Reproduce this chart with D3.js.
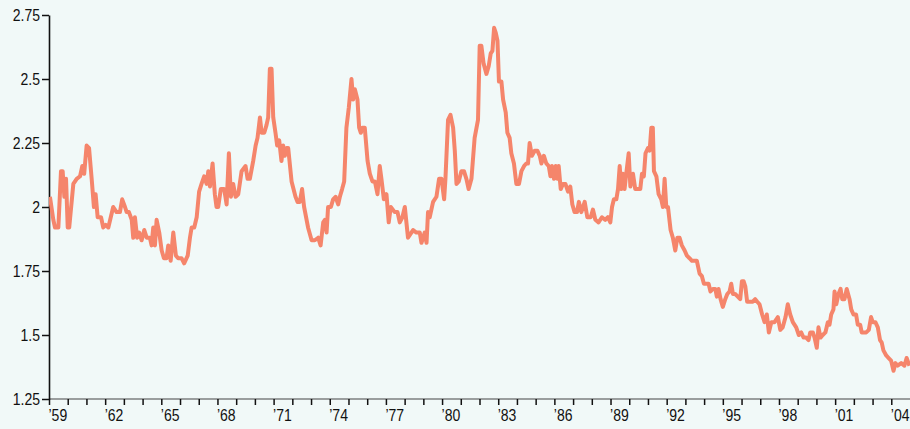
<!DOCTYPE html>
<html>
<head>
<meta charset="utf-8">
<script src="https://cdn.jsdelivr.net/npm/d3@7"></script>
<style>
  html, body { margin: 0; padding: 0; background: #f1f9f8; }
  svg { display: block; }
  .axis text { font-family: "Liberation Sans", Arial, sans-serif; font-size: 16.5px; fill: #111; }
</style>
</head>
<body>
<div id="chart"></div>
<script>
// decimal year of each reading
var dates = [
  1959.05, 1959.23, 1959.32, 1959.50, 1959.64, 1959.73, 1959.82, 1959.91, 1960.00, 1960.08,
  1960.30, 1960.48, 1960.66, 1960.78, 1960.88, 1961.01, 1961.14, 1961.28, 1961.40, 1961.49,
  1961.60, 1961.78, 1961.90, 1962.03, 1962.17, 1962.43, 1962.61, 1962.79, 1962.91, 1963.06,
  1963.15, 1963.27, 1963.42, 1963.50, 1963.59, 1963.71, 1963.82, 1963.95, 1964.09, 1964.22,
  1964.39, 1964.48, 1964.57, 1964.66, 1964.75, 1964.89, 1965.02, 1965.14, 1965.28, 1965.37,
  1965.50, 1965.64, 1965.78, 1965.90, 1966.08, 1966.22, 1966.41, 1966.53, 1966.62, 1966.76,
  1966.89, 1967.02, 1967.15, 1967.29, 1967.42, 1967.51, 1967.60, 1967.74, 1967.86, 1967.95,
  1968.04, 1968.18, 1968.36, 1968.49, 1968.61, 1968.72, 1968.84, 1968.97, 1969.11, 1969.29,
  1969.50, 1969.61, 1969.73, 1969.91, 1970.04, 1970.14, 1970.27, 1970.36, 1970.50, 1970.62,
  1970.71, 1970.80, 1970.89, 1970.98, 1971.10, 1971.19, 1971.30, 1971.42, 1971.51, 1971.60,
  1971.69, 1971.78, 1971.96, 1972.17, 1972.28, 1972.40, 1972.52, 1972.63, 1972.84, 1973.03,
  1973.20, 1973.38, 1973.51, 1973.65, 1973.74, 1973.83, 1973.91, 1974.06, 1974.18, 1974.31,
  1974.45, 1974.54, 1974.66, 1974.77, 1974.89, 1975.02, 1975.16, 1975.25, 1975.34, 1975.48,
  1975.57, 1975.66, 1975.75, 1975.87, 1976.02, 1976.14, 1976.28, 1976.41, 1976.55, 1976.67,
  1976.76, 1976.89, 1977.03, 1977.15, 1977.26, 1977.47, 1977.62, 1977.74, 1977.88, 1978.01,
  1978.18, 1978.45, 1978.63, 1978.81, 1978.90, 1979.07, 1979.17, 1979.25, 1979.34, 1979.52,
  1979.70, 1979.84, 1979.97, 1980.11, 1980.18, 1980.32, 1980.45, 1980.59, 1980.68, 1980.77,
  1980.89, 1981.03, 1981.17, 1981.30, 1981.42, 1981.57, 1981.74, 1981.92, 1982.01, 1982.10,
  1982.22, 1982.37, 1982.49, 1982.60, 1982.69, 1982.78, 1982.87, 1982.96, 1983.04, 1983.17,
  1983.26, 1983.40, 1983.49, 1983.61, 1983.70, 1983.84, 1983.97, 1984.11, 1984.24, 1984.38,
  1984.50, 1984.59, 1984.68, 1984.80, 1984.95, 1985.09, 1985.22, 1985.31, 1985.44, 1985.57,
  1985.70, 1985.79, 1985.87, 1985.98, 1986.07, 1986.16, 1986.23, 1986.34, 1986.46, 1986.59,
  1986.73, 1986.85, 1986.96, 1987.08, 1987.21, 1987.31, 1987.44, 1987.62, 1987.76, 1987.94,
  1988.06, 1988.19, 1988.36, 1988.54, 1988.72, 1988.86, 1988.99, 1989.08, 1989.18, 1989.31,
  1989.40, 1989.49, 1989.58, 1989.66, 1989.75, 1989.84, 1989.97, 1990.06, 1990.20, 1990.32,
  1990.46, 1990.59, 1990.68, 1990.78, 1990.87, 1991.00, 1991.09, 1991.18, 1991.26, 1991.32,
  1991.45, 1991.57, 1991.71, 1991.80, 1991.89, 1991.98, 1992.07, 1992.21, 1992.33, 1992.46,
  1992.57, 1992.69, 1992.81, 1992.96, 1993.08, 1993.22, 1993.35, 1993.49, 1993.61, 1993.76,
  1993.88, 1993.99, 1994.11, 1994.24, 1994.34, 1994.47, 1994.60, 1994.68, 1994.77, 1994.88,
  1995.00, 1995.13, 1995.24, 1995.36, 1995.45, 1995.54, 1995.66, 1995.80, 1995.93, 1996.02,
  1996.11, 1996.20, 1996.30, 1996.43, 1996.60, 1996.73, 1996.84, 1996.96, 1997.10, 1997.23,
  1997.35, 1997.46, 1997.59, 1997.76, 1997.94, 1998.07, 1998.20, 1998.35, 1998.47, 1998.60,
  1998.74, 1998.92, 1999.06, 1999.19, 1999.31, 1999.45, 1999.58, 1999.67, 1999.81, 1999.90,
  2000.02, 2000.11, 2000.22, 2000.34, 2000.48, 2000.61, 2000.70, 2000.79, 2000.91, 2000.97,
  2001.06, 2001.18, 2001.29, 2001.38, 2001.50, 2001.62, 2001.77, 2001.86, 2001.98, 2002.12,
  2002.21, 2002.34, 2002.42, 2002.53, 2002.66, 2002.80, 2002.92, 2003.01, 2003.15, 2003.28,
  2003.40, 2003.49, 2003.58, 2003.73, 2003.86, 2003.99, 2004.12, 2004.22, 2004.34, 2004.53,
  2004.70, 2004.82, 2004.97
];

var values = [
  2.04, 1.95, 1.92, 1.92, 2.14, 2.14, 2.04, 2.11, 1.92, 1.92,
  2.09, 2.11, 2.12, 2.16, 2.13, 2.24, 2.23, 2.11, 2.00, 2.05,
  1.96, 1.96, 1.92, 1.93, 1.92, 2.00, 1.98, 1.98, 2.03, 2.00,
  1.98, 1.98, 1.95, 1.88, 1.96, 1.88, 1.90, 1.87, 1.91, 1.88,
  1.88, 1.85, 1.92, 1.85, 1.95, 1.90, 1.83, 1.80, 1.80, 1.85,
  1.79, 1.90, 1.81, 1.80, 1.80, 1.78, 1.81, 1.88, 1.92, 1.92,
  1.96, 2.06, 2.09, 2.12, 2.09, 2.14, 2.08, 2.17, 2.05, 2.00,
  2.00, 2.07, 2.07, 2.01, 2.21, 2.04, 2.09, 2.04, 2.05, 2.14,
  2.16, 2.11, 2.11, 2.18, 2.24, 2.27, 2.35, 2.29, 2.29, 2.32,
  2.35, 2.54, 2.54, 2.35, 2.29, 2.24, 2.26, 2.18, 2.24, 2.20,
  2.23, 2.23, 2.10, 2.04, 2.02, 2.02, 2.07, 2.00, 1.92, 1.87,
  1.87, 1.88, 1.85, 1.94, 1.95, 1.90, 2.00, 2.00, 2.03, 2.04,
  2.01, 2.04, 2.07, 2.10, 2.31, 2.39, 2.50, 2.42, 2.46, 2.42,
  2.31, 2.29, 2.31, 2.31, 2.18, 2.13, 2.10, 2.10, 2.05, 2.16,
  2.11, 2.03, 2.05, 1.94, 2.00, 1.98, 1.98, 1.94, 1.96, 2.00,
  1.88, 1.91, 1.90, 1.90, 1.86, 1.90, 1.86, 1.98, 1.96, 2.02,
  2.04, 2.11, 2.11, 2.03, 2.11, 2.34, 2.36, 2.31, 2.22, 2.09,
  2.10, 2.14, 2.14, 2.11, 2.07, 2.11, 2.27, 2.34, 2.63, 2.63,
  2.56, 2.52, 2.55, 2.60, 2.61, 2.70, 2.68, 2.65, 2.49, 2.49,
  2.42, 2.37, 2.29, 2.27, 2.21, 2.17, 2.09, 2.09, 2.14, 2.16,
  2.17, 2.17, 2.25, 2.20, 2.22, 2.22, 2.20, 2.17, 2.20, 2.17,
  2.16, 2.12, 2.16, 2.11, 2.16, 2.11, 2.16, 2.07, 2.09, 2.09,
  2.06, 2.08, 2.01, 1.98, 1.98, 2.02, 1.98, 2.02, 1.96, 1.96,
  1.99, 1.95, 1.94, 1.96, 1.95, 1.96, 1.94, 2.00, 2.03, 2.03,
  2.07, 2.16, 2.07, 2.13, 2.07, 2.13, 2.21, 2.08, 2.13, 2.07,
  2.07, 2.07, 2.13, 2.12, 2.21, 2.23, 2.22, 2.31, 2.31, 2.14,
  2.12, 2.05, 2.03, 2.00, 2.11, 2.00, 2.00, 1.91, 1.88, 1.83,
  1.88, 1.88, 1.85, 1.83, 1.81, 1.80, 1.79, 1.79, 1.79, 1.74,
  1.73, 1.70, 1.70, 1.70, 1.67, 1.68, 1.68, 1.65, 1.68, 1.64,
  1.61, 1.64, 1.66, 1.67, 1.70, 1.66, 1.66, 1.65, 1.64, 1.71,
  1.71, 1.69, 1.63, 1.63, 1.63, 1.64, 1.63, 1.62, 1.58, 1.55,
  1.58, 1.51, 1.55, 1.55, 1.57, 1.52, 1.53, 1.57, 1.62, 1.58,
  1.55, 1.53, 1.50, 1.51, 1.49, 1.49, 1.48, 1.51, 1.51, 1.49,
  1.45, 1.53, 1.49, 1.50, 1.51, 1.55, 1.54, 1.58, 1.60, 1.67,
  1.62, 1.66, 1.68, 1.64, 1.64, 1.68, 1.64, 1.60, 1.58, 1.58,
  1.54, 1.54, 1.51, 1.51, 1.51, 1.52, 1.57, 1.55, 1.55, 1.53,
  1.48, 1.47, 1.44, 1.42, 1.41, 1.40, 1.36, 1.39, 1.38, 1.39,
  1.38, 1.41, 1.38
];

var yTicks = [1.25, 1.5, 1.75, 2, 2.25, 2.5, 2.75];
var firstYear = 1959, lastYear = 2004;
var labelEvery = 3;

var width = 910, height = 429;
var margin = { top: 15, right: 0, bottom: 30, left: 49 };
var squeeze = 0.85; // labels are set in a condensed face

var svg = d3.select("#chart")
  .append("svg")
  .attr("width", width)
  .attr("height", height);

var x = d3.scaleLinear()
  .domain([firstYear, lastYear + 1])
  .range([margin.left, width - margin.right]);

var y = d3.scaleLinear()
  .domain([1.25, 2.75])
  .range([height - margin.bottom, margin.top]);

var data = dates.map(function (d, i) { return { t: d, v: values[i] }; });

// x axis: a tick every year, label every third
var xAxis = svg.append("g")
  .attr("class", "axis")
  .attr("transform", "translate(0," + y(1.25) + ")")
  .call(d3.axisBottom(x)
    .tickValues(d3.range(firstYear, lastYear + 1))
    .tickSize(6)
    .tickFormat(function (d) {
      return (d - firstYear) % labelEvery === 0 ? "\u2019" + String(d).slice(2) : "";
    }));
xAxis.select(".domain").attr("stroke", "#444").attr("stroke-width", 1.2)
  .attr("d", "M" + x.range()[0] + ",0H" + width);
xAxis.selectAll(".tick line").attr("stroke", "#111").attr("stroke-width", 1.5);
xAxis.selectAll(".tick text")
  .attr("text-anchor", "start")
  .attr("x", 0)
  .attr("y", 0)
  .attr("dy", "0.71em")
  .attr("transform", "translate(-1,10) scale(" + squeeze + ",1)");

// y axis
var yAxis = svg.append("g")
  .attr("class", "axis")
  .attr("transform", "translate(" + margin.left + ",0)")
  .call(d3.axisLeft(y)
    .tickValues(yTicks)
    .tickSize(7)
    .tickSizeOuter(0)
    .tickFormat(function (d) { return String(d); }));
yAxis.select(".domain").attr("stroke", "#111").attr("stroke-width", 1.6);
yAxis.selectAll(".tick line").attr("stroke", "#111").attr("stroke-width", 1.5);
yAxis.selectAll(".tick text")
  .attr("x", 0)
  .attr("transform", "translate(-9,0) scale(" + squeeze + ",1)");

// the series
svg.append("clipPath")
  .attr("id", "plot")
  .append("rect")
  .attr("x", margin.left)
  .attr("y", 0)
  .attr("width", width - margin.left)
  .attr("height", height);

var line = d3.line()
  .x(function (d) { return x(d.t); })
  .y(function (d) { return y(d.v); });

svg.append("path")
  .datum(data)
  .attr("clip-path", "url(#plot)")
  .attr("fill", "none")
  .attr("stroke", "#f5856b")
  .attr("stroke-width", 4)
  .attr("stroke-linejoin", "round")
  .attr("d", line);
</script>
</body>
</html>
